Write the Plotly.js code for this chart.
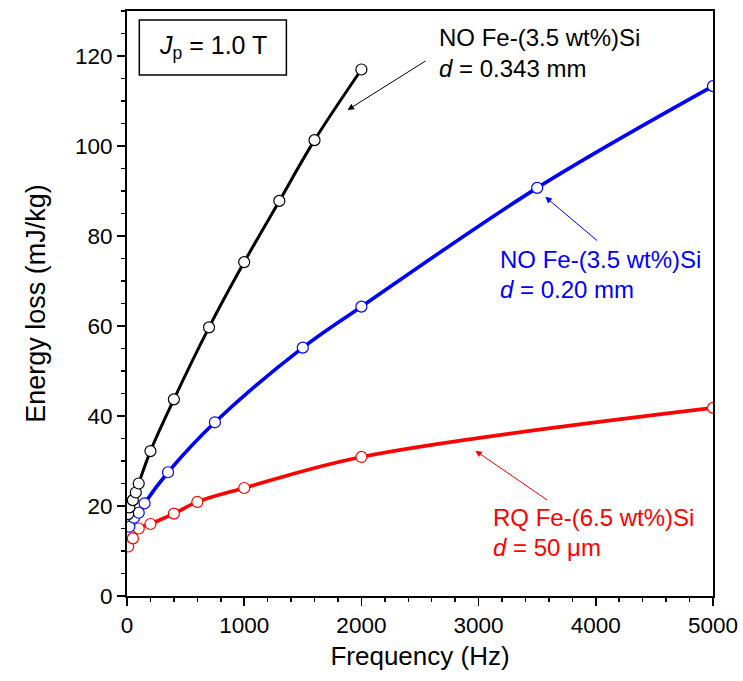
<!DOCTYPE html>
<html>
<head>
<meta charset="utf-8">
<script src="https://cdn.plot.ly/plotly-3.0.1.min.js"></script>
<style>html,body{margin:0;padding:0;background:#fff;}#chart{width:743px;height:681px;}</style>
</head>
<body>
<div id="chart"></div>
<script>
// Data
const freqBlack = [10, 20, 50, 75, 100, 200, 400, 700, 1000, 1300, 1600, 2000];
const lossBlack = [18.2, 19.7, 21.3, 23.0, 25.0, 32.2, 43.7, 59.7, 74.2, 87.8, 101.3, 117.0];

const freqBlue = [20, 60, 100, 150, 350, 750, 1500, 2000, 3500, 5000];
const lossBlue = [15.4, 17.4, 18.5, 20.6, 27.5, 38.6, 55.2, 64.3, 90.7, 113.3];

const freqRed = [10, 50, 100, 200, 400, 600, 1000, 2000, 5000];
const lossRed = [11.0, 12.8, 15.0, 16.0, 18.3, 20.9, 24.0, 30.9, 41.8];

const xTickVals = [0, 1000, 2000, 3000, 4000, 5000];
const yTickVals = [0, 20, 40, 60, 80, 100, 120];

const labelBlack = ["NO Fe-(3.5 wt%)Si", "<i>d</i> = 0.343 mm"];
const labelBlue = ["NO Fe-(3.5 wt%)Si", "<i>d</i> = 0.20 mm"];
const labelRed = ["RQ Fe-(6.5 wt%)Si", "<i>d</i> = 50 μm"];
const boxLabel = "<i>J</i><sub>p</sub> = 1.0 T";

const FONT = "Liberation Sans, Arial, sans-serif";

function lineTrace(x, y, color, w) {
  return {x: x, y: y, type: 'scatter', mode: 'lines',
    line: {color: color, width: w, shape: 'spline', smoothing: 1},
    hoverinfo: 'skip', showlegend: false, cliponaxis: true};
}
function markerTrace(x, y, color) {
  return {x: x, y: y, type: 'scatter', mode: 'markers',
    marker: {symbol: 'circle', size: 11, color: '#ffffff', line: {color: color, width: 1.2}},
    showlegend: false, cliponaxis: true};
}

const data = [
  lineTrace(freqRed, lossRed, '#ff0000', 3.6),
  lineTrace(freqBlue, lossBlue, '#0000ff', 3.6),
  lineTrace(freqBlack, lossBlack, '#000000', 3),
  markerTrace(freqRed, lossRed, '#ff0000'),
  markerTrace(freqBlue, lossBlue, '#0000ff'),
  markerTrace(freqBlack, lossBlack, '#000000')
];

function txt(text, x, y, color) {
  return {text: text, x: x, y: y, xref: 'x', yref: 'y', xanchor: 'left', yanchor: 'middle',
    showarrow: false, font: {family: FONT, size: 24, color: color}};
}
function arrow(x, y, ax, ay, color) {
  return {text: '', x: x, y: y, ax: ax, ay: ay, xref: 'x', yref: 'y', axref: 'x', ayref: 'y',
    showarrow: true, arrowhead: 2, arrowsize: 1.3, arrowwidth: 1, arrowcolor: color};
}

const layout = {
  width: 743, height: 681,
  margin: {l: 127, r: 30, t: 11, b: 85},
  paper_bgcolor: '#ffffff', plot_bgcolor: '#ffffff',
  font: {family: FONT, size: 22, color: '#000'},
  showlegend: false,
  xaxis: {
    range: [0, 5000], tickvals: xTickVals, ticktext: xTickVals.map(String),
    ticks: 'outside', ticklen: 8, tickwidth: 1.5, tickcolor: '#000',
    minor: {dtick: 200, ticks: 'outside', ticklen: 4, tickwidth: 1.5, tickcolor: '#000'},
    showline: true, linecolor: '#000', linewidth: 2, mirror: true,
    showgrid: false, zeroline: false,
    tickfont: {family: FONT, size: 22.5, color: '#000'},
    title: {text: 'Frequency (Hz)', font: {family: FONT, size: 26, color: '#000'}, standoff: 10}
  },
  yaxis: {
    range: [0, 130], tickvals: yTickVals, ticktext: yTickVals.map(String),
    ticks: 'outside', ticklen: 8, tickwidth: 1.5, tickcolor: '#000',
    minor: {dtick: 5, ticks: 'outside', ticklen: 4, tickwidth: 1.5, tickcolor: '#000'},
    showline: true, linecolor: '#000', linewidth: 2, mirror: true,
    showgrid: false, zeroline: false,
    tickfont: {family: FONT, size: 22.5, color: '#000'},
    title: {text: 'Energy loss (mJ/kg)', font: {family: FONT, size: 27, color: '#000'}, standoff: 22}
  },
  shapes: [
    {type: 'rect', xref: 'paper', yref: 'paper', x0: 0.021, x1: 0.272, y0: 0.8906, y1: 0.9846,
     line: {color: '#000', width: 1.5}, fillcolor: 'rgba(0,0,0,0)'}
  ],
  annotations: [
    {text: boxLabel, xref: 'paper', yref: 'paper', x: 0.1465, y: 0.938, xanchor: 'center', yanchor: 'middle',
     showarrow: false, font: {family: FONT, size: 25, color: '#000'}},
    txt(labelBlack[0], 2648, 124.2, '#000'),
    txt(labelBlack[1], 2648, 117.3, '#000'),
    arrow(1882, 108, 2560, 119.1, '#000'),
    txt(labelBlue[0], 3162, 74.8, '#0000ff'),
    txt(labelBlue[1], 3162, 68.2, '#0000ff'),
    arrow(3569, 88.7, 4024, 78.7, '#0000ff'),
    txt(labelRed[0], 3106, 17.5, '#ff0000'),
    txt(labelRed[1], 3106, 10.8, '#ff0000'),
    arrow(2972, 32.3, 3597, 21.1, '#ff0000')
  ]
};

Plotly.newPlot('chart', data, layout, {staticPlot: true, displayModeBar: false});
</script>
</body>
</html>
